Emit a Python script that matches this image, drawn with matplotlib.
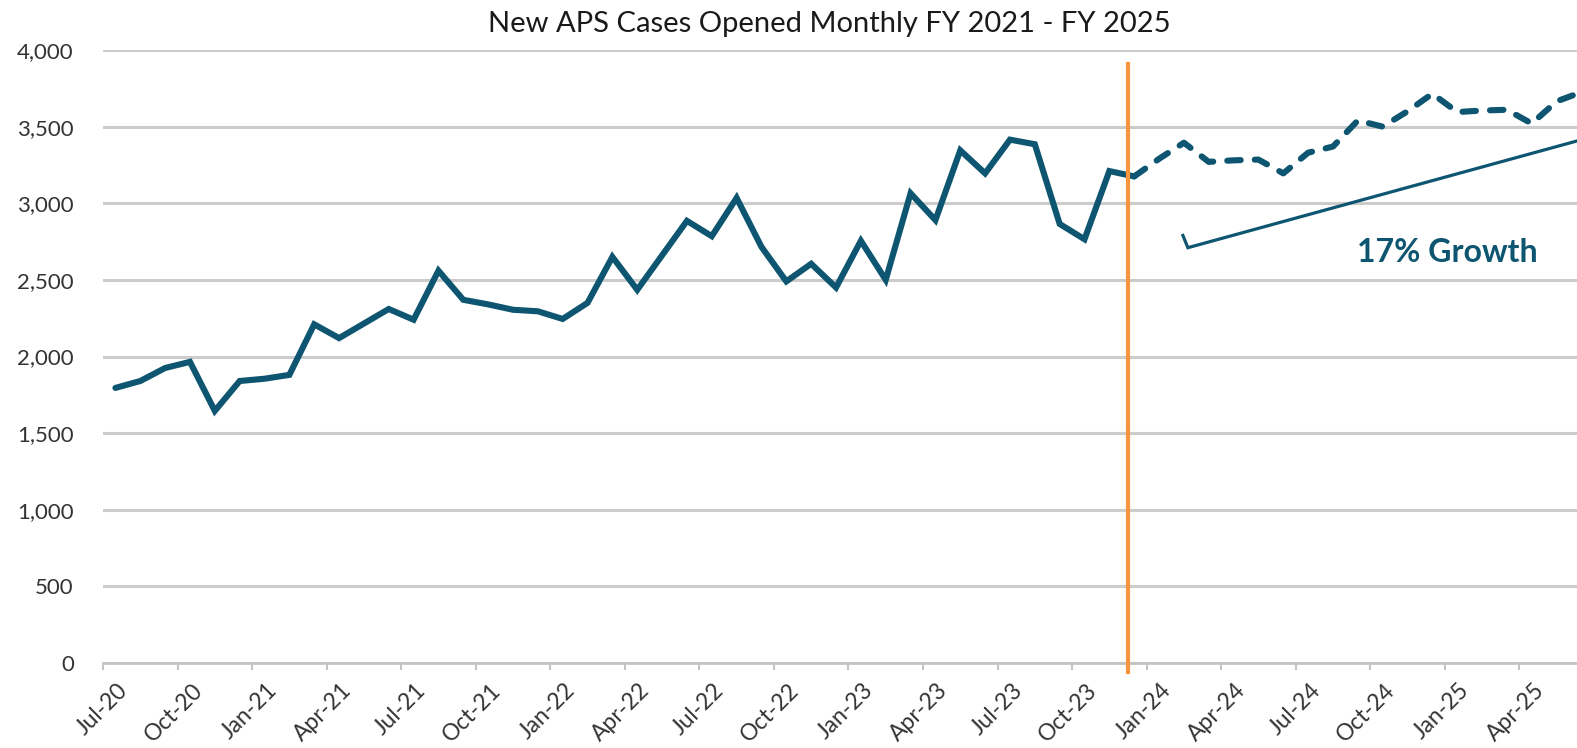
import matplotlib
matplotlib.use("Agg")
import matplotlib.pyplot as plt
import matplotlib.transforms as mtrans
from matplotlib.ticker import FuncFormatter

plt.rcParams['font.family'] = ['Lato', 'DejaVu Sans']

# ---- data ----
# monthly values, Jul-20 (index 0) .. Jun-25 (index 59)
values = [1795, 1840, 1925, 1965, 1645, 1840, 1855, 1880, 2210, 2120,
          2215, 2310, 2240, 2560, 2370, 2340, 2305, 2295, 2245, 2350,
          2650, 2435, 2660, 2885, 2785, 3035, 2715, 2490, 2605, 2450,
          2755, 2500, 3065, 2890, 3345, 3195, 3415, 3385, 2865, 2765,
          3210, 3175, 3290, 3395, 3270, 3280, 3285, 3195, 3330, 3370,
          3540, 3500, 3600, 3715, 3595, 3605, 3610, 3520, 3665, 3725]
split_index = 41          # solid up to here, dashed afterwards
tick_labels = ["Jul-20", "Oct-20", "Jan-21", "Apr-21", "Jul-21", "Oct-21",
               "Jan-22", "Apr-22", "Jul-22", "Oct-22", "Jan-23", "Apr-23",
               "Jul-23", "Oct-23", "Jan-24", "Apr-24", "Jul-24", "Oct-24",
               "Jan-25", "Apr-25"]
divider_x = 40.75
divider_y = [-60, 3910]
trend_x = [42.96, 43.16, 58.9]
trend_y = [2790, 2710, 3410]
title = "New APS Cases Opened Monthly FY 2021 - FY 2025"
growth_label = "17% Growth"

# ---- figure ----
W, H = 1577, 748
fig = plt.figure(figsize=(W / 100, H / 100), dpi=100)
ax = fig.add_axes([103 / W, (H - 663) / H, 1 - 103 / W, (663 - 50) / H])

teal = "#0d5570"
grid_c = "#cccccc"

x = list(range(len(values)))
ax.plot(x[:split_index + 1], values[:split_index + 1], color=teal, lw=4.4,
        solid_joinstyle="miter", solid_capstyle="round", zorder=3)
ln, = ax.plot(x[split_index:], values[split_index:], color=teal, lw=4.4,
              dash_capstyle="round", dash_joinstyle="round", zorder=3)
ln.set_dashes([2.2, 2.3])

ax.plot(trend_x, trend_y, color=teal, lw=2.3, solid_joinstyle="miter", zorder=3)
ax.plot([divider_x, divider_x], divider_y, color="#f7963c", lw=3.0,
        zorder=4, clip_on=False)

ax.text(53.6, 2680, growth_label, color=teal, fontsize=23, fontweight="bold",
        ha="center", va="center")

ax.set_xlim(-0.5, 58.82)
ax.set_ylim(0, 4000)
ax.set_yticks(range(0, 4001, 500))
ax.yaxis.set_major_formatter(FuncFormatter(lambda v, p: f"{int(v):,}"))
ax.grid(axis="y", color=grid_c, lw=2.2)
ax.set_axisbelow(True)
for s in ["top", "right", "left"]:
    ax.spines[s].set_visible(False)
ax.spines["bottom"].set_color("#c4c4c4")
ax.spines["bottom"].set_linewidth(2)

ticks = [-0.5 + 3 * k for k in range(len(tick_labels))]
ax.set_xticks(ticks)
ax.set_xticklabels(tick_labels, rotation=45, ha="right", va="top",
                   rotation_mode="anchor", fontsize=16.5, color="#333333")
ax.tick_params(axis="x", length=5, width=1.5, color="#c4c4c4", pad=7)
ax.tick_params(axis="y", length=0, pad=21, labelsize=16, labelcolor="#333333")

offset = mtrans.ScaledTranslation(14 / 100, 0, fig.dpi_scale_trans)
for lab in ax.get_xticklabels():
    lab.set_transform(lab.get_transform() + offset)

fig.text(829 / W, 1 - 24 / H, title, ha="center", va="center",
         fontsize=21, color="#1a1a1a")

fig.savefig("out.png", dpi=100)
